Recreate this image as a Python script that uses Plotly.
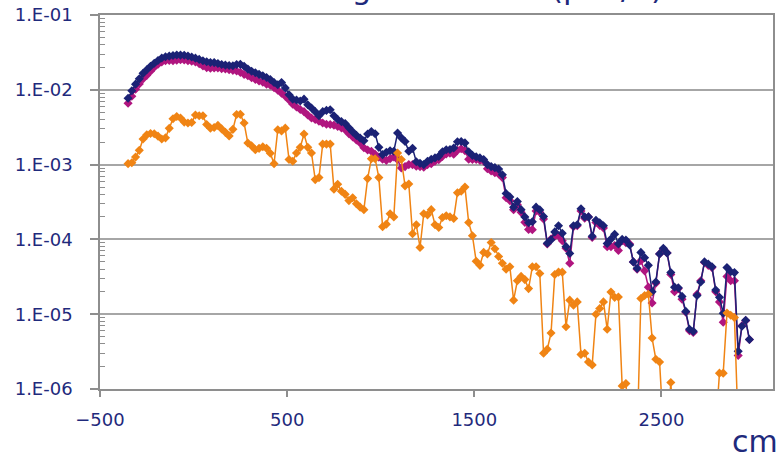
import plotly.graph_objects as go

# Sampling positions along the beam axis (cm), every 20 cm
position_cm = list(range(-350, 2971, 20))

dose_total = [
    7.7e-3, 9.7e-3, 1.19e-2, 1.40e-2, 1.66e-2, 1.85e-2, 2.06e-2, 2.26e-2, 2.47e-2, 2.66e-2,
    2.77e-2, 2.82e-2, 2.88e-2, 2.92e-2, 2.91e-2, 2.89e-2, 2.83e-2, 2.75e-2, 2.65e-2, 2.55e-2,
    2.44e-2, 2.37e-2, 2.32e-2, 2.31e-2, 2.25e-2, 2.18e-2, 2.14e-2, 2.11e-2, 2.10e-2, 2.18e-2,
    2.19e-2, 2.06e-2, 1.89e-2, 1.77e-2, 1.69e-2, 1.61e-2, 1.54e-2, 1.46e-2, 1.37e-2, 1.25e-2,
    1.17e-2, 1.25e-2, 1.06e-2, 8.6e-3, 7.5e-3, 7.3e-3, 7.1e-3, 7.5e-3, 6.3e-3, 5.7e-3,
    5.1e-3, 4.5e-3, 5.1e-3, 5.3e-3, 5.4e-3, 4.5e-3, 4.0e-3, 3.75e-3, 3.55e-3, 3.1e-3,
    2.74e-3, 2.46e-3, 2.26e-3, 2.08e-3, 2.56e-3, 2.77e-3, 2.58e-3, 1.70e-3, 1.36e-3, 1.46e-3,
    1.53e-3, 1.51e-3, 2.64e-3, 2.28e-3, 2.04e-3, 1.51e-3, 1.65e-3, 1.09e-3, 1.04e-3, 1.0e-3,
    1.11e-3, 1.18e-3, 1.23e-3, 1.29e-3, 1.48e-3, 1.58e-3, 1.59e-3, 1.67e-3, 2.02e-3, 2.04e-3,
    1.95e-3, 1.48e-3, 1.33e-3, 1.27e-3, 1.23e-3, 1.17e-3, 1.0e-3, 9.4e-4, 9.1e-4, 8.7e-4,
    7.3e-4, 4.1e-4, 3.7e-4, 2.7e-4, 3.2e-4, 2.5e-4, 2.0e-4, 1.67e-4, 1.72e-4, 2.7e-4,
    2.48e-4, 2.02e-4, 8.9e-5, 9.9e-5, 1.26e-4, 1.52e-4, 1.21e-4, 8.0e-5, 6.5e-5, 1.52e-4,
    1.57e-4, 2.56e-4, 2.0e-4, 2.0e-4, 1.10e-4, 1.80e-4, 1.67e-4, 1.52e-4, 8.8e-5, 1.01e-4,
    1.17e-4, 8.7e-5, 1.0e-4, 9.8e-5, 8.4e-5, 5.0e-5, 4.1e-5, 6.7e-5, 5.7e-5, 4.5e-5,
    2.0e-5, 2.7e-5, 6.4e-5, 7.6e-5, 6.6e-5, 3.6e-5, 2.3e-5, 2.25e-5, 1.73e-5, 1.09e-5,
    6.3e-6, 5.9e-6, 1.78e-5, 2.7e-5, 5.0e-5, 4.7e-5, 4.3e-5, 2.1e-5, 1.68e-5, 1.03e-5,
    4.2e-5, 3.7e-5, 3.6e-5, 3.2e-6, 6.9e-6, 8.3e-6, 4.6e-6,
]

dose_neutron = [
    6.6e-3, 8.2e-3, 1.02e-2, 1.20e-2, 1.40e-2, 1.56e-2, 1.77e-2, 2.0e-2, 2.2e-2, 2.35e-2,
    2.44e-2, 2.47e-2, 2.44e-2, 2.48e-2, 2.52e-2, 2.5e-2, 2.44e-2, 2.41e-2, 2.35e-2, 2.24e-2,
    2.08e-2, 1.98e-2, 1.94e-2, 1.96e-2, 1.96e-2, 1.92e-2, 1.90e-2, 1.86e-2, 1.82e-2, 1.78e-2,
    1.71e-2, 1.61e-2, 1.54e-2, 1.45e-2, 1.38e-2, 1.31e-2, 1.26e-2, 1.19e-2, 1.15e-2, 1.07e-2,
    9.9e-3, 9.0e-3, 8.2e-3, 7.3e-3, 6.4e-3, 5.9e-3, 5.45e-3, 5.1e-3, 4.6e-3, 4.2e-3,
    4.0e-3, 3.8e-3, 3.6e-3, 3.46e-3, 3.44e-3, 3.37e-3, 3.24e-3, 3.1e-3, 2.92e-3, 2.59e-3,
    2.35e-3, 2.13e-3, 1.95e-3, 1.68e-3, 1.57e-3, 1.51e-3, 1.37e-3, 1.26e-3, 1.18e-3, 1.14e-3,
    1.20e-3, 1.27e-3, 1.16e-3, 9.0e-4, 9.4e-4, 1.0e-3, 1.0e-3, 9.5e-4, 9.4e-4, 9.2e-4,
    1.0e-3, 1.03e-3, 1.11e-3, 1.16e-3, 1.29e-3, 1.39e-3, 1.42e-3, 1.38e-3, 1.55e-3, 1.63e-3,
    1.53e-3, 1.18e-3, 1.17e-3, 1.17e-3, 1.14e-3, 1.11e-3, 8.8e-4, 8.2e-4, 7.8e-4, 7.5e-4,
    6.7e-4, 3.6e-4, 3.3e-4, 2.5e-4, 2.9e-4, 2.3e-4, 1.69e-4, 1.36e-4, 1.35e-4, 2.4e-4,
    2.3e-4, 1.87e-4, 8.7e-5, 1.01e-4, 1.10e-4, 1.12e-4, 9.6e-5, 7.6e-5, 4.8e-5, 1.48e-4,
    1.52e-4, 2.4e-4, 1.92e-4, 2.0e-4, 1.06e-4, 1.68e-4, 1.54e-4, 1.42e-4, 8.0e-5, 8.0e-5,
    8.3e-5, 7.1e-5, 9.6e-5, 9.0e-5, 8.7e-5, 5.0e-5, 4.0e-5, 5.2e-5, 3.8e-5, 2.3e-5,
    1.41e-5, 2.6e-5, 6.4e-5, 7.4e-5, 6.6e-5, 3.4e-5, 2.0e-5, 2.2e-5, 1.59e-5, 1.06e-5,
    6.0e-6, 5.7e-6, 1.85e-5, 2.8e-5, 4.9e-5, 4.5e-5, 4.2e-5, 2.0e-5, 1.46e-5, 7.8e-6,
    3.2e-5, 2.8e-5, 2.8e-5, 2.8e-6, 7.0e-6, 8.2e-6, 4.6e-6,
]

dose_photon = [
    1.03e-3, 1.06e-3, 1.26e-3, 1.55e-3, 2.2e-3, 2.5e-3, 2.6e-3, 2.58e-3, 2.4e-3, 2.2e-3,
    2.28e-3, 3.05e-3, 4.1e-3, 4.4e-3, 4.2e-3, 3.7e-3, 3.6e-3, 3.66e-3, 4.6e-3, 4.5e-3,
    4.5e-3, 3.44e-3, 3.07e-3, 3.14e-3, 3.34e-3, 3.0e-3, 2.7e-3, 2.42e-3, 2.96e-3, 4.67e-3,
    4.7e-3, 3.6e-3, 1.94e-3, 1.78e-3, 1.58e-3, 1.65e-3, 1.73e-3, 1.65e-3, 1.42e-3, 1.03e-3,
    2.92e-3, 2.82e-3, 3.07e-3, 1.17e-3, 1.11e-3, 1.43e-3, 1.70e-3, 2.56e-3, 1.70e-3, 1.43e-3,
    6.3e-4, 6.7e-4, 1.88e-3, 1.88e-3, 1.88e-3, 4.7e-4, 5.45e-4, 4.4e-4, 4.0e-4, 3.3e-4,
    3.6e-4, 3.0e-4, 2.7e-4, 2.5e-4, 6.5e-4, 1.20e-3, 1.20e-3, 6.7e-4, 1.48e-4, 1.6e-4,
    2.2e-4, 2.0e-4, 1.43e-3, 1.17e-3, 5.2e-4, 5.5e-4, 1.19e-4, 1.57e-4, 7.8e-5, 2.2e-4,
    2.13e-4, 2.5e-4, 1.57e-4, 1.44e-4, 1.96e-4, 2.07e-4, 2.0e-4, 1.91e-4, 4.2e-4, 4.4e-4,
    5.0e-4, 1.68e-4, 1.12e-4, 5.1e-5, 4.5e-5, 6.7e-5, 6.4e-5, 9.1e-5, 7.5e-5, 5.9e-5,
    4.8e-5, 4.0e-5, 4.3e-5, 1.54e-5, 2.8e-5, 3.2e-5, 2.9e-5, 2.2e-5, 4.3e-5, 4.3e-5,
    3.5e-5, 3.0e-6, 3.4e-6, 5.6e-6, 3.4e-5, 3.65e-5, 3.65e-5, 6.8e-6, 1.54e-5, 1.32e-5,
    1.46e-5, 2.9e-6, 3.0e-6, 2.3e-6, 2.1e-6, 1.0e-5, 1.19e-5, 1.46e-5, 6.3e-6, 1.98e-5,
    1.68e-5, 1.7e-5, 1.1e-6, 1.18e-6, 3e-7, 2e-7, 2e-7, 1.62e-5, 1.78e-5, 1.85e-5,
    4.8e-6, 2.5e-6, 2.3e-6, 3e-7, 2e-7, 1.22e-6, 2e-7, 3e-7, 2e-7, 4e-7,
    2e-7, 3e-7, 2e-7, 4e-7, 2e-7, 3e-7, 2e-7, 3e-7, 1.63e-6, 1.63e-6,
    1.04e-5, 9.7e-6, 9.0e-6, 3e-7, 2e-7, 3e-7, 2e-7,
]

y_tick_values = [1e-6, 1e-5, 1e-4, 1e-3, 1e-2, 1e-1]
y_tick_labels = ["1.E-06", "1.E-05", "1.E-04", "1.E-03", "1.E-02", "1.E-01"]
x_tick_values = [-500, 500, 1500, 2500]

TEXT = "#1F2A7C"
AXIS = "#8E8E8E"
GRID = "#A6A6A6"
FONT = "DejaVu Sans"

series = [
    ("neutron", dose_neutron, "#B0157F"),
    ("total", dose_total, "#1B2275"),
    ("photon", dose_photon, "#F08414"),
]

fig = go.Figure()
for name, values, color in series:
    fig.add_trace(go.Scatter(
        x=position_cm, y=values, name=name, mode="lines+markers",
        line=dict(color=color, width=1.5),
        marker=dict(symbol="diamond", size=7, color=color, line=dict(width=0)),
        showlegend=False,
    ))

minor_vals = [k * 10.0 ** e for e in range(-6, -1) for k in range(2, 10)]

fig.update_layout(
    width=779, height=456,
    margin=dict(l=100, r=4, t=13, b=67),
    paper_bgcolor="white", plot_bgcolor="white",
    font=dict(family=FONT, color=TEXT, size=18),
)
fig.update_xaxes(
    range=[-500, 3096], tickvals=x_tick_values,
    showgrid=False, zeroline=False,
    showline=True, linecolor=AXIS, linewidth=1.5, mirror=True,
    ticks="outside", ticklen=6, tickcolor=AXIS, tickwidth=1.5,
    tickfont=dict(family=FONT, size=18, color=TEXT),
    ticklabelstandoff=8,
)
fig.update_yaxes(
    type="log", range=[-6, -1],
    tickvals=y_tick_values, ticktext=y_tick_labels,
    showgrid=True, gridcolor=GRID, gridwidth=1.5, zeroline=False,
    showline=True, linecolor=AXIS, linewidth=1.5, mirror=True,
    ticks="outside", ticklen=8, tickcolor=AXIS, tickwidth=1.5,
    tickfont=dict(family=FONT, size=18, color=TEXT),
    ticklabelstandoff=14,
    minor=dict(tickvals=minor_vals, ticks="inside", ticklen=5,
               tickcolor=AXIS, tickwidth=1, showgrid=False),
)

# Title sits partly above the top edge of the page
fig.add_annotation(
    text="Dose above roof along beam axis (μSv/h)",
    xref="paper", yref="paper", x=-0.119, y=1.019,
    xanchor="left", yanchor="bottom", showarrow=False,
    font=dict(family=FONT, size=31, color=TEXT),
)
fig.add_annotation(
    text="cm", xref="paper", yref="paper", x=1.01, y=-0.14,
    xanchor="right", yanchor="middle", showarrow=False,
    font=dict(family=FONT, size=30, color=TEXT),
)

fig.write_html("out.html")
